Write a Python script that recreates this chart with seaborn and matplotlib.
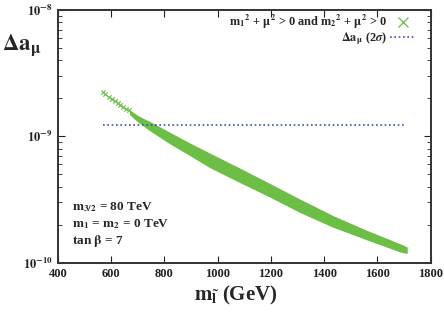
import numpy as np
import pandas as pd
import matplotlib
matplotlib.use("Agg")
import matplotlib.pyplot as plt
import matplotlib.ticker as mticker
from matplotlib.lines import Line2D
import seaborn as sns

# %%
# sparse points at the top-left end of the band (m_slepton in GeV, delta a_mu)
sparse_m = [568, 578, 590, 602, 614, 626, 633, 645, 656, 666]
sparse_da = [2.23e-9, 2.16e-9, 2.06e-9, 1.99e-9, 1.91e-9, 1.83e-9, 1.78e-9,
             1.72e-9, 1.66e-9, 1.61e-9]

# dense band: upper and lower edge
band_m = [671, 700, 746, 821, 897, 972, 1085, 1198, 1311, 1435, 1563, 1687, 1710]
band_hi = [1.59e-9, 1.44e-9, 1.29e-9, 1.06e-9, 8.70e-10, 7.24e-10, 5.51e-10,
           4.16e-10, 3.13e-10, 2.32e-10, 1.77e-10, 1.39e-10, 1.32e-10]
band_lo = [1.50e-9, 1.32e-9, 1.12e-9, 8.84e-10, 7.12e-10, 5.71e-10, 4.35e-10,
           3.34e-10, 2.52e-10, 1.93e-10, 1.53e-10, 1.23e-10, 1.20e-10]

# 2 sigma bound
bound_m = [570, 1705]
bound_da = [1.22e-9, 1.22e-9]

GREEN = "#6cbe45"
BLUE = "#3a4fb5"

# %%
sns.set_theme(style="ticks")
plt.rcParams["font.family"] = ["Liberation Serif", "DejaVu Serif"]
plt.rcParams["font.weight"] = "bold"
plt.rcParams["mathtext.fontset"] = "stix"

fig = plt.figure(figsize=(4.44, 3.19), dpi=100)
ax = fig.add_axes([0.1306, 0.1765, 0.9696 - 0.1306, 0.9687 - 0.1765])

df_band = pd.DataFrame({"m": band_m, "hi": band_hi, "lo": band_lo})
ax.fill_between(df_band["m"], df_band["lo"], df_band["hi"], color=GREEN, lw=1.0,
                edgecolor=GREEN, zorder=2)

df_sparse = pd.DataFrame({"m": sparse_m, "da": sparse_da})
sns.scatterplot(data=df_sparse, x="m", y="da", marker="x", s=10, color=GREEN,
                linewidth=0.8, ax=ax, zorder=2)

df_bound = pd.DataFrame({"m": bound_m, "da": bound_da})
sns.lineplot(data=df_bound, x="m", y="da", color=BLUE, lw=1.2,
             linestyle=(0, (1, 1.6)), ax=ax, zorder=3)

ax.set_yscale("log")
ax.set_xlim(400, 1800)
ax.set_ylim(1e-10, 1e-8)

ax.xaxis.set_major_locator(mticker.MultipleLocator(200))
ax.yaxis.set_major_locator(mticker.LogLocator(base=10))
ax.yaxis.set_minor_locator(mticker.LogLocator(base=10, subs=np.arange(2, 10)))
ax.yaxis.set_minor_formatter(mticker.NullFormatter())
ax.yaxis.set_major_formatter(
    mticker.FuncFormatter(lambda v, p: r"$\mathbf{10^{%d}}$" % round(np.log10(v))))

ax.tick_params(which="both", direction="in", top=True, right=True,
               labelsize=9, colors="#222222")
ax.tick_params(which="major", length=5, width=0.8, pad=4)
ax.tick_params(which="minor", length=3, width=0.6)
for lab in ax.get_xticklabels():
    lab.set_fontweight("bold")
for sp in ax.spines.values():
    sp.set_linewidth(1.4)
    sp.set_color("#333333")

ax.set_xlabel(r"$\mathbf{m}_{\tilde{\mathbf{l}}}$ (GeV)", fontsize=15,
              fontweight="bold")
ax.xaxis.set_label_coords(0.478, -0.085)
ax.set_ylabel(None)
fig.text(0.005, 0.86, r"$\Delta\mathbf{a}_{\mathbf{\mu}}$", fontsize=16.5,
         ha="left", va="center")

ax.text(0.038, 0.221, r"$\mathbf{m_{3/2}}$ = 80 TeV", transform=ax.transAxes,
        fontsize=9.5, fontweight="bold", va="center")
ax.text(0.038, 0.154, r"$\mathbf{m_1}$ = $\mathbf{m_2}$ = 0 TeV",
        transform=ax.transAxes, fontsize=9.5, fontweight="bold", va="center")
ax.text(0.038, 0.087, r"tan $\mathbf{\beta}$ = 7", transform=ax.transAxes,
        fontsize=9.5, fontweight="bold", va="center")

handles = [
    Line2D([], [], marker="x", color=GREEN, lw=0, markersize=7, markeredgewidth=0.9),
    Line2D([], [], color=BLUE, lw=1.2, linestyle=(0, (1, 1.6))),
]
labels = [
    r"$\mathbf{m_1}^{\mathbf{2}}$ + $\mathbf{\mu}^{\mathbf{2}}$ > 0 and "
    r"$\mathbf{m_2}^{\mathbf{2}}$ + $\mathbf{\mu}^{\mathbf{2}}$ > 0",
    r"$\Delta\mathbf{a}_{\mathbf{\mu}}$ (2$\sigma$)",
]
leg = ax.legend(handles, labels, loc="upper right", bbox_to_anchor=(0.9675, 0.998),
                frameon=False, markerfirst=False, handlelength=2.1,
                borderaxespad=0, borderpad=0.2, labelspacing=-0.05,
                handletextpad=0.25, prop={"weight": "bold", "size": 8.8})

fig.savefig("out.png", dpi=100)
